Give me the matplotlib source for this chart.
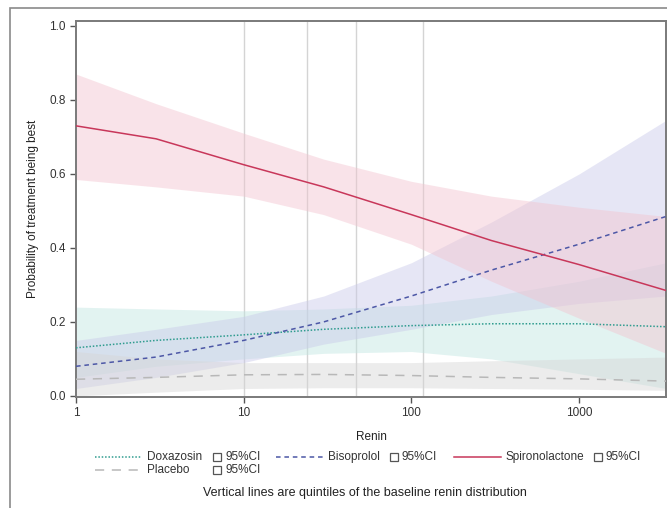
import numpy as np
import matplotlib
matplotlib.use("Agg")
import matplotlib.pyplot as plt
from matplotlib.lines import Line2D
from matplotlib.patches import Rectangle

plt.rcParams['font.family'] = ['Liberation Sans', 'DejaVu Sans']

renin = [1, 3, 10, 30, 100, 300, 1000, 3300]

# predicted probability and 95% CI for each treatment
doxazosin = [0.13, 0.15, 0.165, 0.18, 0.19, 0.195, 0.195, 0.187]
doxazosin_lo = [0.05, 0.08, 0.10, 0.115, 0.12, 0.10, 0.06, 0.02]
doxazosin_hi = [0.24, 0.235, 0.23, 0.235, 0.245, 0.27, 0.31, 0.36]

bisoprolol = [0.08, 0.105, 0.15, 0.20, 0.27, 0.34, 0.41, 0.485]
bisoprolol_lo = [0.02, 0.05, 0.09, 0.14, 0.18, 0.22, 0.25, 0.27]
bisoprolol_hi = [0.15, 0.18, 0.215, 0.27, 0.36, 0.47, 0.60, 0.745]

spironolactone = [0.73, 0.695, 0.625, 0.565, 0.49, 0.42, 0.355, 0.285]
spironolactone_lo = [0.585, 0.565, 0.54, 0.49, 0.41, 0.31, 0.21, 0.115]
spironolactone_hi = [0.87, 0.79, 0.71, 0.64, 0.58, 0.54, 0.51, 0.485]

placebo = [0.045, 0.05, 0.057, 0.058, 0.055, 0.05, 0.046, 0.04]
placebo_lo = [0.0, 0.01, 0.02, 0.022, 0.022, 0.02, 0.018, 0.015]
placebo_hi = [0.12, 0.10, 0.09, 0.09, 0.09, 0.095, 0.10, 0.105]

# quintiles of baseline renin
quintiles = [10, 23.9, 47, 118]

yticks = [0.0, 0.2, 0.4, 0.6, 0.8, 1.0]
xticks = [1, 10, 100, 1000]

series = [
    ("Doxazosin", doxazosin, doxazosin_lo, doxazosin_hi, "#2f9c8f", "#bfe6e1", (0, (1, 1.2))),
    ("Bisoprolol", bisoprolol, bisoprolol_lo, bisoprolol_hi, "#4c57a6", "#c9c9ea", (0, (3, 2.5))),
    ("Spironolactone", spironolactone, spironolactone_lo, spironolactone_hi, "#c8375a", "#f3c3cf", "-"),
    ("Placebo", placebo, placebo_lo, placebo_hi, "#b8b8b8", "#d6d6d6", (0, (6, 5))),
]

W, H = 667, 508
fig = plt.figure(figsize=(W / 100, H / 100), dpi=100)
ax = fig.add_axes([0.114, 0.2185, 0.8845, 0.7402])


def px(x, y):
    # pixel position (from top-left) -> figure fraction
    return x / W, 1 - y / H


# outer frame
fig.patches.append(Rectangle((10 / W, -0.02), 1.0, 1 - 8 / H + 0.02,
                             transform=fig.transFigure, fill=False,
                             edgecolor="#8a8a8a", lw=1.2, zorder=0))

for q in quintiles:
    ax.axvline(q, color="#d4d4d4", lw=1, zorder=1)

for name, y, lo, hi, lc, fc, ls in series:
    ax.fill_between(renin, lo, hi, color=fc, alpha=0.45, lw=0, zorder=2)
for name, y, lo, hi, lc, fc, ls in series:
    ax.plot(renin, y, color=lc, lw=1.1, linestyle=ls, zorder=3)

ax.set_xscale("log")
ax.set_xlim(1, 3300)
ax.set_ylim(-0.003, 1.0135)
ax.set_xticks(xticks)
ax.set_xticklabels([str(t) for t in xticks])
ax.minorticks_off()
ax.set_yticks(yticks)
ax.set_yticklabels([f"{t:.1f}" for t in yticks])
ax.tick_params(colors="#555555", labelcolor="#333333", labelsize=8.5, length=4, width=1)
for sp in ax.spines.values():
    sp.set_color("#7a7a7a")
    sp.set_linewidth(1.4)

ax.set_ylabel("Probability of treatment being best", fontsize=8.5, color="#222222", labelpad=7)
fig.text(*px(371, 437), "Renin", ha="center", va="center", fontsize=8.5, color="#222222")

# legend: line + name, then CI box + "95%CI"
legend_pos = {  # name: (row y, line start x, CI box x)
    "Doxazosin": (457, 95, 213),
    "Bisoprolol": (457, 276, 390),
    "Spironolactone": (457, 454, 594),
    "Placebo": (470, 95, 213),
}
for name, y, lo, hi, lc, fc, ls in series:
    ry, lx, bx = legend_pos[name]
    x0, yy = px(lx, ry)
    x1, _ = px(lx + 47, ry)
    fig.add_artist(Line2D([x0, x1], [yy, yy], color=lc, lw=1.1, linestyle=ls,
                          transform=fig.transFigure))
    fig.text(*px(lx + 52, ry), name, ha="left", va="center", fontsize=8.5, color="#333333")
    bx0, by0 = px(bx, ry + 4)
    fig.patches.append(Rectangle((bx0, by0), 8 / W, 8 / H, transform=fig.transFigure,
                                 facecolor="white", edgecolor="#555555", lw=0.9))
    fig.text(*px(bx + 12, ry), "95%CI", ha="left", va="center", fontsize=8.5, color="#333333")

fig.text(*px(365, 493), "Vertical lines are quintiles of the baseline renin distribution",
         ha="center", va="center", fontsize=9, color="#222222")

fig.savefig("out.png", dpi=100)
